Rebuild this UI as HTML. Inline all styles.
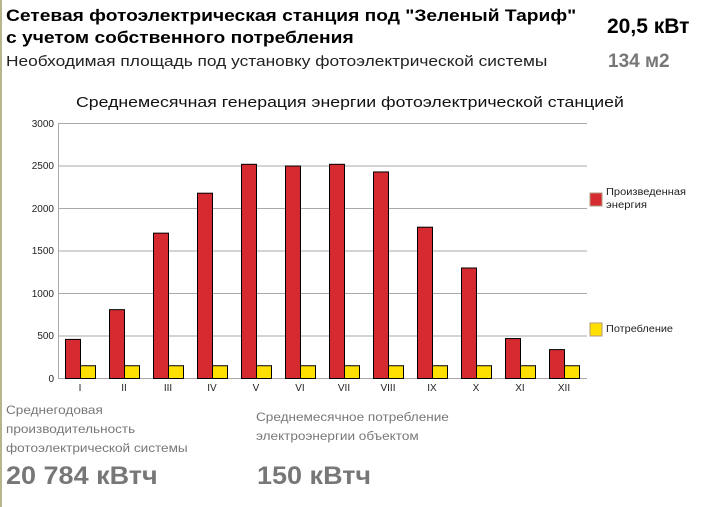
<!DOCTYPE html>
<html><head><meta charset="utf-8"><style>
body{margin:0;width:704px;height:507px;background:#fff;overflow:hidden;font-family:"Liberation Sans","DejaVu Sans",sans-serif;position:relative}
.a{position:absolute;white-space:nowrap;transform-origin:0 0}
</style></head><body>
<div class="a" style="left:0;top:0;width:2px;height:507px;background:#b8b48c"></div>
<div class="a" style="left:6px;top:5px;font-size:17px;font-weight:bold;line-height:22px;color:#000;transform:scaleX(1.13)">Сетевая фотоэлектрическая станция под "Зеленый Тариф"<br>с учетом собственного потребления</div>
<div class="a" style="left:607px;top:15px;font-size:21px;font-weight:bold;color:#000">20,5 кВт</div>
<div class="a" style="left:6px;top:53px;font-size:15px;color:#222;transform:scaleX(1.155)">Необходимая площадь под установку фотоэлектрической системы</div>
<div class="a" style="left:608px;top:51px;font-size:19px;font-weight:bold;color:#777">134 м2</div>
<div class="a" style="left:76px;top:95px;font-size:14.5px;color:#111;transform:scaleX(1.22)">Среднемесячная генерация энергии фотоэлектрической станцией</div>
<svg class="a" style="left:0;top:0" width="704" height="400" font-family="Liberation Sans, sans-serif">
<g stroke="#aaa" stroke-width="1">
<line x1="58" y1="123.5" x2="587" y2="123.5"/><line x1="58" y1="166" x2="587" y2="166"/>
<line x1="58" y1="208.5" x2="587" y2="208.5"/><line x1="58" y1="251" x2="587" y2="251"/>
<line x1="58" y1="293.5" x2="587" y2="293.5"/><line x1="58" y1="336" x2="587" y2="336"/>
<line x1="58" y1="378.5" x2="587" y2="378.5"/><line x1="58.5" y1="123" x2="58.5" y2="379"/>
</g>
<g font-size="10" fill="#222" text-anchor="end">
<text x="54" y="127">3000</text><text x="54" y="169">2500</text><text x="54" y="212">2000</text>
<text x="54" y="254">1500</text><text x="54" y="297">1000</text><text x="54" y="339">500</text><text x="54" y="382">0</text>
</g>
<g id="bars" stroke="#000" stroke-width="1"></g>
<g font-size="10" fill="#222" text-anchor="middle" id="lbl"></g>
<rect x="590" y="193" width="12" height="13" fill="#d42a30" stroke="#b09a80"/>
<rect x="590" y="323" width="12" height="13" fill="#ffe000" stroke="#b09a80"/>
<text x="606" y="195" font-size="10" fill="#222" textLength="80" lengthAdjust="spacingAndGlyphs">Произведенная</text>
<text x="606" y="208" font-size="10" fill="#222" textLength="41" lengthAdjust="spacingAndGlyphs">энергия</text>
<text x="606" y="332" font-size="10" fill="#222" textLength="67" lengthAdjust="spacingAndGlyphs">Потребление</text>
</svg>
<div class="a" style="left:6px;top:401px;font-size:12px;line-height:19px;color:#777;transform:scaleX(1.13)">Среднегодовая<br>производительность<br>фотоэлектрической системы</div>
<div class="a" style="left:256px;top:408px;font-size:12px;line-height:19px;color:#777;transform:scaleX(1.13)">Среднемесячное потребление<br>электроэнергии объектом</div>
<div class="a" style="left:6px;top:462px;font-size:25px;font-weight:bold;color:#777;transform:scaleX(1.08)">20 784 кВтч</div>
<div class="a" style="left:257px;top:462px;font-size:25px;font-weight:bold;color:#777;transform:scaleX(1.08)">150 кВтч</div>
<script>
var v=[460,810,1710,2180,2520,2500,2520,2430,1780,1300,470,340],m=["I","II","III","IV","V","VI","VII","VIII","IX","X","XI","XII"];
var b="",l="";
for(var i=0;i<12;i++){var x=65.5+44*i,h=v[i]*0.085,hc=150*0.085;
b+='<rect x="'+x+'" y="'+(378.5-h)+'" width="15" height="'+h+'" fill="#d42a30"/>';
b+='<rect x="'+(x+15)+'" y="'+(378.5-hc)+'" width="15" height="'+hc+'" fill="#ffe000"/>';
l+='<text x="'+(80+44*i)+'" y="391">'+m[i]+'</text>';}
document.getElementById("bars").innerHTML=b;document.getElementById("lbl").innerHTML=l;
</script>
</body></html>
